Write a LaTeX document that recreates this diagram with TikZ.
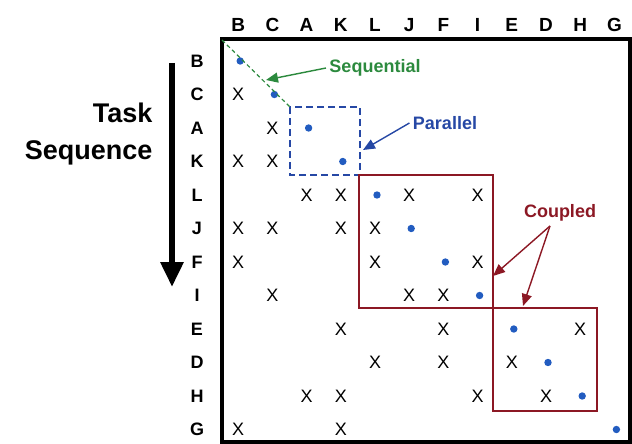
\documentclass[tikz,border=0pt]{standalone}
\usepackage{fontspec}
\setmainfont{Liberation Sans}
\usetikzlibrary{arrows.meta}
\definecolor{seqgreen}{RGB}{44,138,62}
\definecolor{parblue}{RGB}{38,72,165}
\definecolor{dotblue}{RGB}{34,92,192}
\definecolor{cplred}{RGB}{140,24,36}
\makeatletter
\newcommand{\dsm@X}[2]{\node[xentry] (x#1) at #2 {X};}
\newcommand{\dsm@o}[2]{\fill[taskdot] #2 circle (3.7);}
\newcommand{\dsm@n}[2]{}
\newcommand{\dsmrow}[3]{
  \node[rowhead] (row#1) at (197,#3) {#1};
  \foreach[count=\i] \x in {#2} {
    \csname dsm@\x\endcsname{#1\i}{(204+34.2*\i,#3)};
  }
}
\makeatother

\begin{document}
\begin{tikzpicture}[x=1pt,y=-1pt,
    colhead/.style={font=\fontsize{19}{19}\selectfont\bfseries},
    rowhead/.style={font=\fontsize{18}{18}\selectfont\bfseries},
    xentry/.style={font=\fontsize{18}{18}\selectfont,inner sep=0pt},
    taskdot/.style={fill=dotblue,xshift=2pt},
    dsmframe/.style={draw=black,line width=3.5pt},
    parbox/.style={draw=parblue,line width=2.2pt,dash pattern=on 7pt off 4pt},
    cplbox/.style={draw=cplred,line width=2pt},
    note/.style={font=\fontsize{18}{18}\selectfont\bfseries},
    pointer/.style={line width=1.4pt,-{Triangle[length=12pt,width=10pt]}}]
  \useasboundingbox (0,0) rectangle (632,444);

  % column heads
  \foreach[count=\i] \c in {B,C,A,K,L,J,F,I,E,D,H,G}
    \node[colhead] (col\c) at (204+34.2*\i,25) {\c};

  % task sequence arrow
  \node[font=\fontsize{27}{37}\selectfont\bfseries,align=right,anchor=east]
    (task) at (156,134) {Task\\Sequence};
  \coordinate (seqtop) at (172,63);
  \coordinate (seqend) at (172,287);
  \draw[line width=6pt,-{Triangle[length=25pt,width=22pt]}] (seqtop) -- (seqend);

  % matrix
  \draw[dsmframe] (222,39) rectangle (630,442);
  \dsmrow{B}{o}{61}
  \dsmrow{C}{X,o}{94.5}
  \dsmrow{A}{n,X,o}{128}
  \dsmrow{K}{X,X,n,o}{161.5}
  \dsmrow{L}{n,n,X,X,o,X,n,X}{195}
  \dsmrow{J}{X,X,n,X,X,o}{228.5}
  \dsmrow{F}{X,n,n,n,X,n,o,X}{262}
  \dsmrow{I}{n,X,n,n,n,X,X,o}{295.5}
  \dsmrow{E}{n,n,n,X,n,n,X,n,o,n,X}{329}
  \dsmrow{D}{n,n,n,n,X,n,X,n,X,o}{362.5}
  \dsmrow{H}{n,n,X,X,n,n,n,X,n,X,o}{396}
  \dsmrow{G}{X,n,n,X,n,n,n,n,n,n,n,o}{429.5}

  % blocks
  \coordinate (corner) at (222,40);
  \coordinate (parNW) at (290,107);
  \draw[parbox] (parNW) rectangle (360,175);
  \draw[cplbox] (359,175) rectangle (493,308);
  \draw[cplbox] (493,308) rectangle (597,411);
  \draw[seqgreen,line width=1.2pt,dash pattern=on 4pt off 3pt] (corner) -- (parNW);

  % notes
  \node[note,text=seqgreen] (seqlabel) at (375,68) {Sequential};
  \coordinate (seqtip) at (266,80);
  \draw[pointer,seqgreen] (seqlabel.west) -- (seqtip);

  \node[note,text=parblue] (parlabel) at (445,123) {Parallel};
  \coordinate (partip) at (363,150);
  \draw[pointer,parblue] (parlabel.west) -- (partip);

  \node[note,text=cplred] (cpllabel) at (560,213) {Coupled};
  \coordinate (cplfork) at (550,226);
  \coordinate (cpltipA) at (493,276);
  \coordinate (cpltipB) at (523,306);
  \draw[pointer,cplred] (cplfork) -- (cpltipA);
  \draw[pointer,cplred] (cplfork) -- (cpltipB);
\end{tikzpicture}
\end{document}
